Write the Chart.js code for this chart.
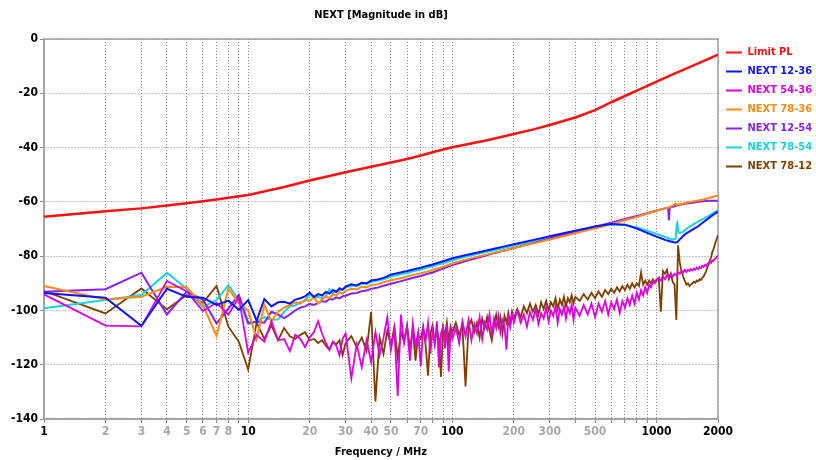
<!DOCTYPE html>
<html>
<head>
<meta charset="utf-8">
<title>NEXT</title>
<script src="https://cdn.jsdelivr.net/npm/chart.js@4.4.1/dist/chart.umd.min.js"></script>
<style>
  html, body { margin: 0; padding: 0; background: #fff; }
  #wrap { width: 816px; height: 460px; }
</style>
</head>
<body>
<div id="wrap"><canvas id="nextChart" width="816" height="460"></canvas></div>
<script>
// frequency axis (MHz): gridlines and which of them carry a label
const xGrid = [1, 2, 3, 4, 5, 6, 7, 8, 9, 10, 20, 30, 40, 50, 60, 70, 80, 90,
  100, 200, 300, 400, 500, 600, 700, 800, 900, 1000, 2000];
const xLabels = [1, 2, 3, 4, 5, 6, 7, 8, 10, 20, 30, 40, 50, 70, 100, 200, 300, 500, 1000, 2000];
const xDecades = [1, 10, 100, 1000, 2000];

// limit line
const freqLimit = [1, 2, 3, 4, 5, 6, 7, 8, 10, 15, 20, 30, 40, 50, 60, 70, 80, 90, 100,
  150, 200, 250, 300, 400, 500, 600, 700, 800, 900, 1000, 1200, 1500, 1750, 2000];
const limitPL = [-65.5, -63.5, -62.4, -61.3, -60.5, -59.8, -59.1, -58.5, -57.5, -54.5,
  -52.1, -49.1, -47.1, -45.5, -44.2, -42.9, -41.7, -40.7, -39.9, -37.2, -35.0, -33.3,
  -31.7, -28.9, -26.2, -23.3, -21.0, -19.0, -17.3, -15.7, -13.0, -9.9, -7.7, -5.8];

// sweep points for the four clean pairs
const freqSmooth = [1, 2, 3, 4, 5, 6, 7, 8, 9, 10, 11, 12, 13, 14, 15, 16, 17, 18, 19, 20,
  21, 22, 23, 24, 25, 26, 27, 28, 29, 30,
  32, 34, 36, 38, 40, 43, 46, 50, 55, 60, 65, 70, 75, 80, 90, 100,
  120, 140, 160, 180, 200, 250, 300, 350, 400, 450, 500, 600, 700, 800, 900, 1000,
  1050, 1100, 1140, 1150, 1160, 1200, 1240, 1255, 1265, 1280, 1300, 1350, 1400, 1500,
  1600, 1700, 1800, 1900, 2000];

const next1236 = [-93.6, -95.3, -105.7, -92.0, -95.0, -95.3, -98.0, -96.4, -99.8, -96.2,
  -103.8, -95.8, -98.5, -97.0, -96.8, -97.5, -96.0, -95.5, -94.8, -93.4,
  -95.0, -94.0, -94.5, -93.2, -93.8, -92.5, -93.2, -91.8, -92.4, -91.2,
  -90.4, -90.8, -89.8, -90.0, -89.0, -88.6, -88.0, -86.8, -86.1, -85.5, -84.8, -84.3, -83.6, -83.1, -81.9, -80.8,
  -79.4, -78.3, -77.3, -76.4, -75.6, -74.0, -72.7, -71.6, -70.6, -69.8, -69.1, -68.2, -68.4, -69.8, -71.4, -72.8,
  -73.4, -74.0, -74.3, -74.4, -74.5, -74.8, -75.0, -75.0, -74.8, -74.4, -73.8, -72.6, -71.6, -70.2,
  -69.0, -67.4, -66.0, -64.7, -63.6];

const next7836 = [-91.0, -96.0, -95.0, -91.3, -91.5, -98.0, -109.4, -92.0, -97.4, -100.0,
  -110.5, -98.0, -104.0, -100.5, -99.0, -98.0, -97.0, -97.5, -96.0, -96.5,
  -95.0, -97.5, -96.0, -94.8, -95.5, -94.0, -94.6, -93.2, -93.8, -92.8,
  -92.0, -92.3, -91.3, -91.5, -90.6, -90.4, -89.6, -88.9, -88.2, -87.5, -86.8, -86.3, -85.7, -85.1, -83.9, -82.7,
  -81.0, -79.8, -78.8, -77.8, -77.0, -75.3, -73.9, -72.7, -71.6, -70.6, -69.8, -68.2, -66.8, -65.6, -64.4, -63.3,
  -62.8, -62.4, -62.1, -62.0, -61.9, -61.4, -60.6, -61.2, -61.1, -61.0, -60.9, -60.6, -60.3, -59.9,
  -59.5, -59.1, -58.6, -58.1, -57.6];

const next1254 = [-93.1, -92.2, -86.1, -101.5, -93.1, -96.0, -104.8, -99.3, -94.3, -104.6,
  -104.2, -104.5, -100.5, -101.5, -102.8, -101.5, -100.0, -99.0, -98.5, -97.6,
  -98.0, -97.2, -96.6, -96.8, -95.8, -96.0, -95.2, -95.6, -94.8, -94.6,
  -93.8, -93.6, -92.9, -92.7, -92.0, -91.6, -90.9, -90.2, -89.4, -88.6, -87.9, -87.3, -86.6, -86.0, -84.6, -83.3,
  -81.5, -80.1, -78.9, -77.9, -77.0, -75.1, -73.5, -72.2, -71.1, -70.1, -69.2, -67.7, -66.3, -65.2, -64.2, -63.2,
  -62.8, -62.4, -62.2, -66.8, -62.1, -61.8, -61.5, -61.4, -61.3, -61.2, -61.1, -60.8, -60.6, -60.3,
  -60.0, -59.8, -59.6, -59.6, -59.6];

const next7854 = [-99.2, -96.2, -94.3, -86.1, -92.0, -98.7, -96.2, -90.7, -96.2, -105.0,
  -104.0, -102.5, -103.5, -103.3, -100.5, -98.5, -98.2, -97.0, -96.5, -94.0,
  -95.5, -95.0, -95.6, -94.8, -92.2, -93.8, -92.8, -92.6, -92.2, -91.6,
  -90.8, -91.0, -90.1, -90.3, -89.4, -89.0, -88.5, -87.5, -86.8, -86.2, -85.5, -84.9, -84.3, -83.7, -82.6, -81.5,
  -80.0, -78.8, -77.8, -76.9, -76.1, -74.4, -73.0, -71.8, -70.8, -69.9, -69.2, -68.3, -68.5, -69.4, -70.6, -71.8,
  -72.4, -72.9, -73.3, -73.4, -73.5, -73.9, -73.6, -68.5, -67.8, -71.2, -71.5, -71.0, -69.9, -68.5,
  -67.2, -66.2, -65.2, -64.0, -63.1];

// denser sweep for the two noisy pairs
const freqNoisy = [1, 2, 3, 4, 5, 6, 7, 8, 9, 10, 11, 12, 13, 14, 15, 16, 17, 18, 19, 20,
  21, 22, 23, 24, 25, 26, 27, 28, 29, 30,
  32, 34, 36, 38, 40, 42, 44, 46, 48, 50, 52, 54, 56, 58, 60, 62, 64, 66, 68, 70,
  72, 74, 76, 78, 80, 82, 84, 86, 88, 90, 92, 94, 96, 98, 100,
  104, 108, 112, 116, 120, 124, 128, 132, 136, 140, 144, 148, 152, 156, 160, 164, 168,
  172, 176, 180, 184, 188, 192, 196, 200,
  208, 216, 224, 232, 240, 248, 256, 264, 272, 280, 288, 296, 304, 312, 320, 328, 336,
  344, 352, 360, 368, 376, 384, 392, 400,
  420, 440, 460, 480, 500, 520, 540, 560, 580, 600, 620, 640, 660, 680, 700, 720, 740,
  760, 780, 800, 820, 840, 860, 880, 900, 920, 940, 960, 980, 1000,
  1025, 1050, 1075, 1100, 1125, 1150, 1175, 1200, 1225, 1250, 1275, 1300, 1325, 1350,
  1375, 1400, 1425, 1450, 1475, 1500, 1525, 1550, 1575, 1600, 1625, 1650, 1675, 1700,
  1725, 1750, 1775, 1800, 1825, 1850, 1875, 1900, 1925, 1950, 1975, 2000];

const next5436 = [-94.1, -105.6, -105.9, -89.1, -93.0, -100.2, -97.2, -101.5, -95.2, -115.6,
  -109.0, -111.5, -104.0, -111.0, -110.5, -115.0, -109.0, -110.5, -113.5, -110.0,
  -108.0, -104.0, -108.5, -112.0, -114.5, -111.5, -113.0, -116.5, -110.5, -108.5,
  -125.0, -112.5, -121.0, -111.0, -119.0, -108.0, -116.5, -110.0, -102.5, -114.5,
  -107.0, -131.5, -101.5, -112.0, -106.0, -118.5, -105.0, -113.0, -108.0, -120.5,
  -106.5, -111.0, -104.5, -116.0, -107.5, -112.5, -104.0, -121.0, -108.5, -106.0,
  -114.0, -105.5, -122.5, -107.0, -110.5,
  -106.5, -112.0, -104.0, -109.5, -103.5, -111.0, -105.0, -108.5, -102.5, -110.5,
  -104.5, -107.0, -101.5, -109.0, -103.0, -106.5, -102.0, -108.0, -103.5, -105.5,
  -114.5, -102.5, -106.0, -101.5, -104.5,
  -100.0, -104.5, -101.5, -106.0, -100.5, -103.5, -99.5, -105.0, -101.0, -103.0,
  -99.0, -104.0, -100.0, -102.0, -98.5, -104.5, -99.5, -101.5, -98.5, -103.0,
  -99.0, -101.0, -98.0, -103.5, -99.0,
  -102.0, -98.0, -101.5, -97.5, -102.5, -97.5, -100.5, -96.5, -101.5, -97.0,
  -99.5, -96.0, -101.0, -96.5, -99.0, -95.5, -98.0, -94.5, -97.5, -93.5,
  -96.0, -92.5, -94.5, -91.5, -93.5, -90.5, -91.5, -89.5, -90.0, -88.5,
  -88.0, -89.0, -87.5, -88.5, -87.0, -88.0, -86.5, -87.5, -86.5, -87.0,
  -86.0, -86.5, -85.5, -86.0, -85.0, -85.8, -85.0, -85.5, -84.8, -85.3,
  -84.6, -85.0, -84.2, -84.8, -84.0, -84.4, -83.6, -84.0, -83.2, -83.6,
  -82.8, -83.0, -82.2, -82.5, -81.6, -81.8, -81.0, -80.8, -80.2, -79.8];

const next7812 = [-92.9, -101.1, -91.9, -99.6, -94.3, -97.2, -91.0, -106.0, -111.5, -121.8,
  -104.5, -110.5, -105.5, -111.0, -106.5, -109.5, -110.5, -109.0, -108.0, -111.0,
  -110.5, -112.0, -111.0, -113.0, -114.5, -111.5, -112.5, -111.0, -116.5, -112.0,
  -109.5, -113.5, -110.0, -115.0, -100.5, -133.5, -110.0, -116.0, -107.5, -113.0,
  -106.0, -117.5, -108.0, -111.5, -105.5, -114.0, -107.0, -118.5, -109.0, -110.5,
  -106.0, -113.0, -124.0, -108.5, -105.5, -112.0, -107.0, -110.5, -124.5, -106.5,
  -109.5, -104.5, -111.5, -106.0, -108.0,
  -104.5, -109.0, -105.5, -128.0, -106.0, -103.5, -108.0, -104.5, -110.0, -103.0,
  -106.5, -102.5, -107.5, -111.0, -105.5, -101.5, -106.0, -102.5, -108.5, -102.0,
  -104.5, -101.0, -105.0, -100.5, -103.0,
  -99.5, -102.5, -98.5, -101.0, -97.5, -100.5, -98.0, -101.5, -97.0, -99.5,
  -96.5, -100.0, -97.0, -98.5, -95.5, -99.5, -96.0, -98.0, -95.0, -98.5,
  -95.5, -97.0, -94.5, -97.5, -95.0,
  -96.5, -94.0, -96.0, -93.5, -95.5, -93.0, -95.0, -92.5, -94.0, -92.0,
  -93.5, -91.5, -93.0, -91.0, -92.5, -90.5, -92.0, -90.0, -91.5, -90.0,
  -91.0, -86.0, -90.5, -89.0, -90.5, -89.0, -90.0, -88.5, -89.5, -89.0,
  -88.0, -100.5, -85.5, -86.5, -85.0, -88.5, -86.5, -89.5, -90.5, -103.5,
  -76.0, -82.5, -85.5, -87.5, -89.0, -90.5, -90.0, -91.0, -90.5, -90.0,
  -89.5, -89.8, -89.0, -89.3, -88.5, -88.8, -88.0, -87.5, -86.5, -85.5,
  -84.0, -83.0, -81.5, -80.5, -78.5, -77.5, -76.0, -74.5, -73.5, -72.2];

const FONT = "'DejaVu Sans Condensed', 'DejaVu Sans', sans-serif";

function pts(freqs, vals) {
  return freqs.map((f, i) => ({ x: f, y: vals[i] }));
}

function series(label, color, freqs, vals, width) {
  return {
    label: label,
    data: pts(freqs, vals),
    borderColor: color,
    backgroundColor: color,
    borderWidth: width,
    pointRadius: 0,
    tension: 0
  };
}

// grey frame round the plot area
const framePlugin = {
  id: 'frame',
  beforeDatasetsDraw(chart) {
    const a = chart.chartArea;
    const ctx = chart.ctx;
    ctx.save();
    ctx.strokeStyle = '#a0a0a0';
    ctx.lineWidth = 1.5;
    ctx.strokeRect(a.left, a.top, a.right - a.left, a.bottom - a.top);
    ctx.restore();
  }
};

const ctx = document.getElementById('nextChart').getContext('2d');
const nextChart = new Chart(ctx, {
  type: 'line',
  data: {
    datasets: [
      series('Limit PL', '#ff1010', freqLimit, limitPL, 2.5),
      series('NEXT 12-36', '#0a14ff', freqSmooth, next1236, 2),
      series('NEXT 54-36', '#e000e0', freqNoisy, next5436, 1.8),
      series('NEXT 78-36', '#ff8a10', freqSmooth, next7836, 2),
      series('NEXT 12-54', '#8a20f0', freqSmooth, next1254, 2),
      series('NEXT 78-54', '#18d4dc', freqSmooth, next7854, 2),
      series('NEXT 78-12', '#7f3f00', freqNoisy, next7812, 1.8)
    ]
  },
  options: {
    responsive: false,
    animation: false,
    layout: { padding: { left: 0, right: 0, top: 0, bottom: 0 } },
    plugins: {
      title: {
        display: true,
        text: 'NEXT [Magnitude in dB]',
        fullSize: false,
        color: '#000',
        font: { family: FONT, size: 11, weight: 'bold' },
        padding: { top: 8.5, bottom: 17.3 }
      },
      legend: {
        position: 'right',
        align: 'start',
        fullSize: false,
        maxWidth: 98,
        labels: {
          boxWidth: 16,
          boxHeight: 2,
          padding: 8,
          font: { family: FONT, size: 11, weight: 'bold' },
          generateLabels: (chart) => chart.data.datasets.map((ds, i) => ({
            text: ds.label,
            fillStyle: ds.borderColor,
            strokeStyle: ds.borderColor,
            fontColor: ds.borderColor,
            lineWidth: 0,
            hidden: false,
            datasetIndex: i
          }))
        }
      },
      tooltip: { enabled: false }
    },
    scales: {
      x: {
        type: 'logarithmic',
        min: 1,
        max: 2000,
        afterBuildTicks: (scale) => {
          scale.ticks = xGrid.map(v => ({ value: v }));
        },
        afterFit: (scale) => { scale.height = 41; },
        ticks: {
          autoSkip: false,
          maxRotation: 0,
          padding: 2,
          font: { family: FONT, size: 12, weight: 'bold' },
          color: (c) => xDecades.includes(c.tick && c.tick.value) ? '#000' : '#a8a8a8',
          callback: (v) => xLabels.includes(v) ? String(v) : ''
        },
        grid: { color: '#8c8c8c', lineWidth: 1, tickLength: 4 },
        border: { dash: [1, 2], color: '#a0a0a0', width: 1.5 },
        title: {
          display: true,
          text: 'Frequency / MHz',
          color: '#000',
          font: { family: FONT, size: 11, weight: 'bold' },
          padding: { top: 0, bottom: 1.5 }
        }
      },
      y: {
        min: -140,
        max: 0,
        afterFit: (scale) => { scale.width = 44; },
        ticks: {
          stepSize: 20,
          padding: 2,
          color: '#000',
          font: { family: FONT, size: 12, weight: 'bold' }
        },
        grid: { color: '#8c8c8c', lineWidth: 1, tickLength: 4 },
        border: { dash: [1, 2], color: '#a0a0a0', width: 1.5 }
      }
    }
  },
  plugins: [framePlugin]
});
</script>
</body>
</html>
